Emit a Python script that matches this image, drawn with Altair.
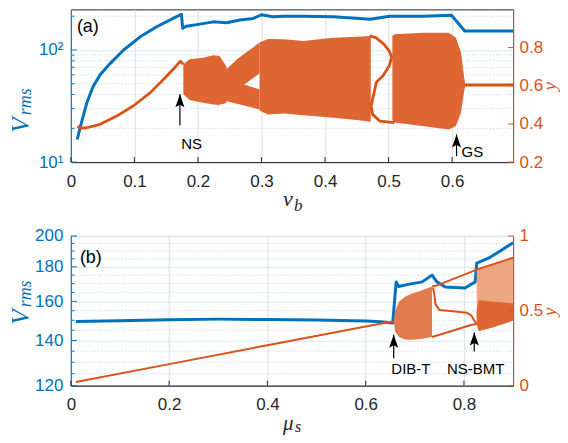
import altair as alt
import pandas as pd

BLUE = "#0072BD"
ORANGE = "#D95319"
DARK = "#262626"
GRID_X = "#dedede"
GRID_Y = "#d9eaf5"
MINOR_Y = "#b9d7ec"
DENSE = "#DD6633"
MEDIUM = "#E27C4E"
SPARSE = "#EDA582"
SANS = "Liberation Sans"
SERIF = "Liberation Serif"
W, HA, HB = 443, 153, 150

# ---------------- panel (a) data ----------------
a_x_ticks = [0, 0.1, 0.2, 0.3, 0.4, 0.5, 0.6]
a_v_ticks = [10, 100]
a_v_minor = [20, 30, 40, 50, 60, 70, 80, 90, 200]
a_y_ticks = [0.2, 0.4, 0.6, 0.8]

a_blue_vb = [0.010, 0.015, 0.025, 0.035, 0.046, 0.062, 0.083, 0.109, 0.135, 0.161, 0.174,
             0.176, 0.182, 0.203, 0.224, 0.245, 0.266, 0.287, 0.300, 0.318, 0.335, 0.366,
             0.413, 0.471, 0.502, 0.555, 0.599, 0.620, 0.696]
a_blue_vrms = [15.9, 20.8, 33.6, 47.2, 60.0, 76.0, 100.0, 131.0, 161.0, 191.0, 208.0,
               156.0, 163.0, 170.0, 178.0, 175.0, 185.0, 191.0, 206.0, 198.0, 200.0, 200.0,
               198.0, 188.0, 200.0, 200.0, 204.0, 147.5, 147.5]

a_line_vb = [0.010, 0.018, 0.025, 0.046, 0.072, 0.098, 0.125, 0.151, 0.166, 0.172, 0.177]
a_line_y = [0.386, 0.378, 0.380, 0.398, 0.441, 0.494, 0.564, 0.651, 0.705, 0.728, 0.712]

a_s_vb = [0.470, 0.480, 0.493, 0.501, 0.505, 0.501, 0.491, 0.481, 0.476, 0.4725, 0.475, 0.486, 0.509]
a_s_y = [0.861, 0.852, 0.817, 0.782, 0.750, 0.703, 0.651, 0.620, 0.546, 0.494, 0.450, 0.415, 0.407]

a_flat_vb = [0.620, 0.696]
a_flat_y = [0.604, 0.604]

a_c1_vb = [0.177, 0.187, 0.208, 0.224, 0.234, 0.245]
a_c1_lo = [0.555, 0.525, 0.511, 0.502, 0.500, 0.510]
a_c1_hi = [0.712, 0.739, 0.747, 0.760, 0.756, 0.700]

a_rise_vb = [0.230, 0.262, 0.297]
a_rise_lo = [0.495, 0.580, 0.665]
a_rise_hi = [0.640, 0.740, 0.826]

a_fall_vb = [0.205, 0.250, 0.297]
a_fall_lo = [0.560, 0.515, 0.476]
a_fall_hi = [0.680, 0.630, 0.581]

a_c3_vb = [0.297, 0.310, 0.335, 0.366, 0.413, 0.450, 0.472]
a_c3_lo = [0.470, 0.450, 0.455, 0.445, 0.433, 0.420, 0.412]
a_c3_hi = [0.826, 0.845, 0.843, 0.834, 0.852, 0.857, 0.861]

a_c4_vb = [0.506, 0.509, 0.553, 0.595, 0.606, 0.614, 0.619, 0.621]
a_c4_lo = [0.420, 0.407, 0.389, 0.371, 0.389, 0.459, 0.572, 0.604]
a_c4_hi = [0.860, 0.870, 0.878, 0.878, 0.852, 0.774, 0.643, 0.604]

a_arrow_vb = [0.1716, 0.607]
a_arrow_tail = [0.392, 0.231]
a_arrow_tip = [0.555, 0.345]
a_label_text = ["NS", "GS"]
a_label_vb = [0.190, 0.632]
a_label_y = [0.293, 0.251]

# ---------------- panel (b) data ----------------
b_x_ticks = [0, 0.2, 0.4, 0.6, 0.8]
b_v_ticks = [120, 140, 160, 180, 200]
b_v_minor = [125, 130, 135, 145, 150, 155, 165, 170, 175, 185, 190, 195]
b_y_ticks = [0, 0.5, 1]

b_blue_mu = [0.010, 0.100, 0.200, 0.300, 0.400, 0.500, 0.600, 0.630, 0.655, 0.662, 0.667,
             0.694, 0.715, 0.735, 0.745, 0.762, 0.802, 0.823, 0.826, 0.850, 0.877, 0.900]
b_blue_vrms = [149.4, 149.8, 150.3, 150.6, 150.4, 150.2, 149.6, 149.2, 148.6, 171.0, 168.3,
               170.0, 171.0, 175.0, 171.0, 168.0, 167.5, 171.0, 182.3, 185.4, 190.7, 195.5]

b_line_mu = [0.010, 0.200, 0.400, 0.600, 0.657]
b_line_y = [0.025, 0.144, 0.270, 0.395, 0.430]
b_upper_mu = [0.735, 0.748, 0.830, 0.900]
b_upper_y = [0.662, 0.673, 0.780, 0.855]
b_mid_mu = [0.737, 0.740, 0.742, 0.750, 0.782, 0.806, 0.815, 0.820, 0.826]
b_mid_y = [0.655, 0.600, 0.545, 0.505, 0.495, 0.487, 0.470, 0.440, 0.410]
b_low_mu = [0.735, 0.780, 0.816, 0.826]
b_low_y = [0.325, 0.370, 0.407, 0.410]

b_dib_mu = [0.657, 0.660, 0.668, 0.681, 0.694, 0.708, 0.735]
b_dib_lo = [0.430, 0.360, 0.325, 0.307, 0.307, 0.310, 0.325]
b_dib_hi = [0.430, 0.500, 0.562, 0.595, 0.615, 0.629, 0.662]

b_ns_mu = [0.826, 0.830, 0.860, 0.900]
b_ns_lo = [0.410, 0.365, 0.390, 0.435]
b_ns_hi = [0.770, 0.785, 0.815, 0.855]
b_ns_dense_hi = [0.500, 0.570, 0.560, 0.550]

b_arrow_mu = [0.657, 0.821]
b_arrow_tail = [0.184, 0.229]
b_arrow_tip = [0.340, 0.355]
b_label_text = ["DIB-T", "NS-BMT"]
b_label_mu = [0.692, 0.824]
b_label_y = [0.113, 0.113]


def seg_lines(segs):
    rows = []
    for name, xs, ys in segs:
        for i, (xv, yv) in enumerate(zip(xs, ys)):
            rows.append({"seg": name, "i": i, "x": xv, "y": yv})
    return pd.DataFrame(rows)


def seg_areas(segs):
    rows = []
    for name, xs, lo, hi in segs:
        for xv, l, h in zip(xs, lo, hi):
            rows.append({"seg": name, "x": xv, "y": l, "y2": h})
    return pd.DataFrame(rows)


def one(t):
    return pd.DataFrame({"t": [t]})


def panel(H, xdom, xticks, ldom, lticks, lminor, llabel, rdom, rticks,
          blue_x, blue_v, dense_areas, medium_areas, sparse_areas, lines, line_w,
          arrows, labels, tag, tag_xy, vtitle, xtitle, ytitle_xy):
    xscale = alt.Scale(domain=xdom, nice=False, zero=False)
    xaxis = alt.Axis(values=xticks, labelExpr="format(datum.value, '~g')", title=None,
                     grid=True, gridColor=GRID_X, domainColor=DARK, labelColor=DARK,
                     labelFont=SANS, labelFontSize=17, labelPadding=11, ticks=False,
                     tickSize=0, labelFlush=False)
    lscale = alt.Scale(type="log", domain=ldom, nice=False)
    laxis = alt.Axis(values=lticks, labelExpr=llabel, title=None, orient="left", grid=True,
                     gridColor=GRID_Y, domainColor=BLUE, labelColor=BLUE, labelFont=SANS,
                     labelFontSize=17, labelPadding=8, ticks=False, tickSize=0)
    rscale = alt.Scale(domain=rdom, nice=False, zero=False)
    raxis = alt.Axis(values=rticks, labelExpr="format(datum.value, '~g')", title=None,
                     orient="right", grid=False, domainColor=ORANGE, labelColor=ORANGE,
                     labelFont=SANS, labelFontSize=17, labelPadding=6, ticks=False, tickSize=0)
    X = alt.X("x:Q", scale=xscale, axis=xaxis)
    VL = alt.Y("v:Q", scale=lscale, axis=laxis)
    YR = alt.Y("y:Q", scale=rscale, axis=raxis)

    minor_grid = alt.Chart(pd.DataFrame({"v": lminor})).mark_rule(
        color=MINOR_Y, strokeDash=[1, 2], strokeWidth=1).encode(
        y=VL, x=alt.value(0), x2=alt.value(W))
    minor_ticks = alt.Chart(pd.DataFrame({"v": lminor})).mark_rule(
        color=BLUE, strokeWidth=1).encode(y=VL, x=alt.value(0), x2=alt.value(3.5))
    major_ticks = alt.Chart(pd.DataFrame({"v": lticks})).mark_rule(
        color=BLUE, strokeWidth=1).encode(y=VL, x=alt.value(0), x2=alt.value(6))
    x_ticks = alt.Chart(pd.DataFrame({"x": xticks})).mark_rule(
        color=DARK, strokeWidth=1).encode(x=X, y=alt.value(H), y2=alt.value(H - 5))
    blue = alt.Chart(pd.DataFrame({"x": blue_x, "v": blue_v})).mark_line(
        color=BLUE, strokeWidth=3, strokeJoin="round").encode(x=X, y=VL)

    tag_t = alt.Chart(one(tag)).mark_text(
        font=SANS, fontSize=18, color="black", align="center", baseline="middle").encode(
        text="t:N", x=alt.value(tag_xy[0]), y=alt.value(tag_xy[1]))

    texts = []
    for t, x, y, size, angle in vtitle + xtitle:
        texts.append(alt.Chart(one(t)).mark_text(
            font=SERIF, fontStyle="italic", fontSize=size, color=(BLUE if angle else DARK),
            align="left", baseline="alphabetic", angle=angle).encode(
            text="t:N", x=alt.value(x), y=alt.value(y)))
    ytitle = alt.Chart(one("y")).mark_text(
        font=SERIF, fontStyle="italic", fontSize=19, color=ORANGE, align="center",
        baseline="alphabetic", angle=270).encode(
        text="t:N", x=alt.value(ytitle_xy[0]), y=alt.value(ytitle_xy[1]))

    left = alt.layer(minor_grid, minor_ticks, major_ticks, x_ticks, blue, tag_t, *texts)

    r_layers = []
    if sparse_areas:
        r_layers.append(alt.Chart(seg_areas(sparse_areas)).mark_area(
            color=SPARSE, opacity=1).encode(x=X, y=YR, y2="y2:Q", detail="seg:N"))
    if dense_areas:
        r_layers.append(alt.Chart(seg_areas(dense_areas)).mark_area(
            color=DENSE, opacity=1).encode(x=X, y=YR, y2="y2:Q", detail="seg:N"))
    if medium_areas:
        r_layers.append(alt.Chart(seg_areas(medium_areas)).mark_area(
            color=MEDIUM, opacity=1).encode(x=X, y=YR, y2="y2:Q", detail="seg:N"))
    r_layers.append(alt.Chart(seg_lines(lines)).mark_line(
        color=ORANGE, strokeWidth=line_w, strokeJoin="round").encode(
        x=X, y=YR, detail="seg:N", order="i:Q"))
    r_layers.append(alt.Chart(pd.DataFrame({"y": rticks})).mark_rule(
        color=ORANGE, strokeWidth=1).encode(y=YR, x=alt.value(W - 5), x2=alt.value(W)))
    ax, atail, atip = arrows
    r_layers.append(alt.Chart(pd.DataFrame({"x": ax, "y": atail, "y2": atip})).mark_rule(
        color="black", strokeWidth=1.2).encode(x=X, y=YR, y2="y2:Q"))
    r_layers.append(alt.Chart(pd.DataFrame({"x": ax, "y": atip})).mark_point(
        shape="M0,0L-0.7,2L0,1.6L0.7,2Z", filled=True, size=170, color="black",
        opacity=1, strokeWidth=0).encode(x=X, y=YR))
    lt, lx, ly = labels
    r_layers.append(alt.Chart(pd.DataFrame({"t": lt, "x": lx, "y": ly})).mark_text(
        font=SANS, fontSize=15, color="black", align="center", baseline="middle").encode(
        x=X, y=YR, text="t:N"))
    right = alt.layer(*r_layers, ytitle)

    return alt.layer(left, right).resolve_scale(y="independent").properties(width=W, height=H)


pa = panel(
    HA, [0, 0.696], a_x_ticks, [10, 230], a_v_ticks, a_v_minor,
    "datum.value == 10 ? '10\u00b9' : '10\u00b2'", [0.2, 1.0], a_y_ticks,
    a_blue_vb, a_blue_vrms,
    [("c1", a_c1_vb, a_c1_lo, a_c1_hi), ("rise", a_rise_vb, a_rise_lo, a_rise_hi),
     ("fall", a_fall_vb, a_fall_lo, a_fall_hi), ("c3", a_c3_vb, a_c3_lo, a_c3_hi),
     ("c4", a_c4_vb, a_c4_lo, a_c4_hi)],
    [], [],
    [("line", a_line_vb, a_line_y), ("s", a_s_vb, a_s_y), ("flat", a_flat_vb, a_flat_y)], 2.8,
    (a_arrow_vb, a_arrow_tail, a_arrow_tip), (a_label_text, a_label_vb, a_label_y),
    "(a)", (17, 17.5),
    [("V", -42, 123.5, 25, 270), ("rms", -40, 106, 18, 270)],
    [("v", 212.5, HA + 44, 22, 0), ("b", 223.5, HA + 49, 17, 0)],
    (W + 42.5, 77),
)

pb = panel(
    HB, [0, 0.9], b_x_ticks, [120, 200], b_v_ticks, b_v_minor,
    "format(datum.value, 'd')", [0, 1], b_y_ticks,
    b_blue_mu, b_blue_vrms,
    [("ns", b_ns_mu, b_ns_lo, b_ns_dense_hi)],
    [("dib", b_dib_mu, b_dib_lo, b_dib_hi)],
    [("nss", b_ns_mu, b_ns_lo, b_ns_hi)],
    [("line", b_line_mu, b_line_y), ("up", b_upper_mu, b_upper_y),
     ("mid", b_mid_mu, b_mid_y), ("low", b_low_mu, b_low_y)], 2.0,
    (b_arrow_mu, b_arrow_tail, b_arrow_tip), (b_label_text, b_label_mu, b_label_y),
    "(b)", (20, 22.5),
    [("V", -42, 89, 25, 270), ("rms", -40, 71.5, 18, 270)],
    [("\u03bc", 212.5, HB + 44, 21, 0), ("s", 224.5, HB + 46.5, 16, 0)],
    (W + 42.5, 76),
)

chart = alt.vconcat(pa, pb, spacing=74, bounds="flush").properties(
    padding={"left": 0, "top": 0, "right": 0, "bottom": 0}
).configure_view(stroke=DARK, strokeWidth=1)

chart.save("out.html", embed_options={"renderer": "svg", "actions": False})
